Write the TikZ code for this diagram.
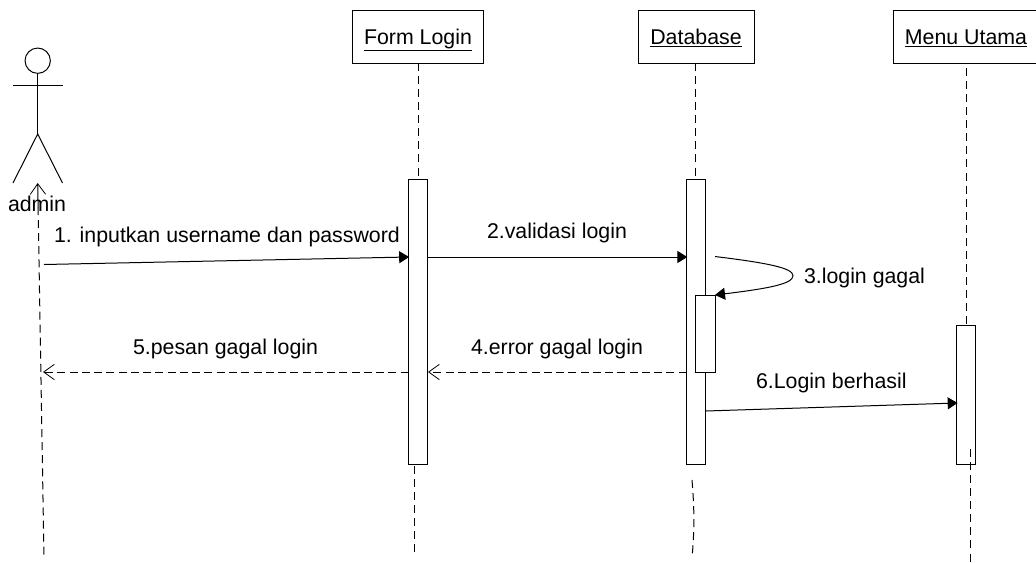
\documentclass[tikz,border=0pt]{standalone}
\usepackage{fontspec}
\setmainfont{Liberation Sans}
\usetikzlibrary{arrows.meta}
\tikzset{
  x=0.75pt,y=-0.75pt,
  every node/.style={font=\fontsize{16pt}{19pt}\selectfont,inner sep=0pt,outer sep=0pt},
  objbox/.style={draw,line width=.75pt,fill=white,minimum height=39.75pt,text height=13pt,text depth=1.75pt},
  actbox/.style={draw,line width=.75pt,fill=white,minimum width=14.4pt},
  lab/.style={anchor=base west},
  life/.style={line width=.75pt,dash pattern=on 6pt off 3.8pt},
  limb/.style={line width=.75pt},
  msg/.style={line width=.75pt,-{Triangle[length=7.5pt,width=9pt]},shorten >=-.5pt},
  ret/.style={line width=.75pt,dash pattern=on 6pt off 3.2pt,-{Straight Barb[length=8pt,width=11.5pt,line width=.6pt]}}
}
\begin{document}
\begin{tikzpicture}
\useasboundingbox (0,0) rectangle (1036,562);
% lifeline end points
\coordinate (fa) at (418,63);
\coordinate (fb) at (418,179);
\coordinate (da) at (695.7,63);
\coordinate (db) at (695.7,179);
\coordinate (ma) at (966,68);
\coordinate (mb) at (966,325);
\coordinate (f2a) at (414.5,466);
\coordinate (f2b) at (414.5,557);
\coordinate (d2a) at (692,480);
\coordinate (d2b) at (692,558);
\coordinate (m2a) at (970,449);
\coordinate (m2b) at (970,562);
\coordinate (aTop) at (37.7,183);
\coordinate (aMid) at (38.1,207);
\coordinate (aEnd) at (44,558);
% lifelines
\draw[life] (fa) -- (fb);
\draw[life] (da) -- (db);
\draw[life] (ma) -- (mb);
\draw[life] (f2a) -- (f2b);
\draw[life] (d2a) .. controls (694.5,510) and (694.5,530) .. (d2b);
% object boxes
\node[objbox,minimum width=98.9pt] (form) at (418,36.5) {\underline{Form Login}};
\node[objbox,minimum width=87pt] (database) at (696,36.5) {\underline{Database}};
\node[objbox,minimum width=109.5pt] (menu) at (966,36.5) {\underline{Menu Utama}};
% activations
\node[actbox,minimum height=214pt] (actF) at (418.3,322.2) {};
\node[actbox,minimum height=214pt] (actD) at (696.2,322.2) {};
\node[actbox,minimum height=57.75pt] (actS) at (705.5,333.5) {};
\node[actbox,minimum height=104.5pt] (actM) at (966,395.3) {};
\draw[life] (m2a) -- (m2b);
% actor
\node[draw,circle,line width=.75pt,minimum size=19pt] (head) at (37.7,60.7) {};
\coordinate (hip) at (37.7,134);
\coordinate (armL) at (13,85);
\coordinate (armR) at (62.5,85);
\coordinate (legL) at (13,183);
\coordinate (legR) at (62.5,183);
\draw[limb] (head.south) -- (hip);
\draw[limb] (armL) -- (armR);
\draw[limb] (legL) -- (hip) -- (legR);
\node[lab] (admin) at (8,211) {admin};
\draw[line width=.75pt,{Straight Barb[length=8pt,width=11.5pt,line width=.6pt]}-] (aTop) -- (aMid);
\draw[life] (aMid) -- (aEnd);
% message 1
\coordinate (m1s) at (44,264.5);
\coordinate (m1e) at (408.5,257);
\draw[msg] (m1s) -- (m1e);
\node[lab] (t1) at (54,242) {1. inputkan username dan password};
% message 2
\coordinate (m2s) at (428,257);
\coordinate (m2e) at (686.7,257);
\draw[msg] (m2s) -- (m2e);
\node[lab] (t2) at (487,238) {2.validasi login};
% message 3
\coordinate (m3s) at (715,256.5);
\coordinate (m3m) at (793,275.7);
\coordinate (m3e) at (715,295);
\draw[line width=.75pt,-{Triangle[length=7.5pt,width=9pt]}] (m3s) .. controls (768,263) and (793,268) .. (m3m) .. controls (793,284) and (768,288.5) .. (m3e);
\node[lab] (t3) at (804,283) {3.login gagal};
% message 4
\coordinate (m4s) at (686.7,372);
\coordinate (m4e) at (428,372);
\draw[ret] (m4s) -- (m4e);
\node[lab] (t4) at (471,354) {4.error gagal login};
% message 5
\coordinate (m5s) at (408.7,372);
\coordinate (m5e) at (43,372);
\draw[ret] (m5s) -- (m5e);
\node[lab] (t5) at (133,354) {5.pesan gagal login};
% message 6
\coordinate (m6s) at (705.7,411);
\coordinate (m6e) at (957,403);
\draw[msg] (m6s) -- (m6e);
\node[lab] (t6) at (756,388) {6.Login berhasil};
\end{tikzpicture}
\end{document}
